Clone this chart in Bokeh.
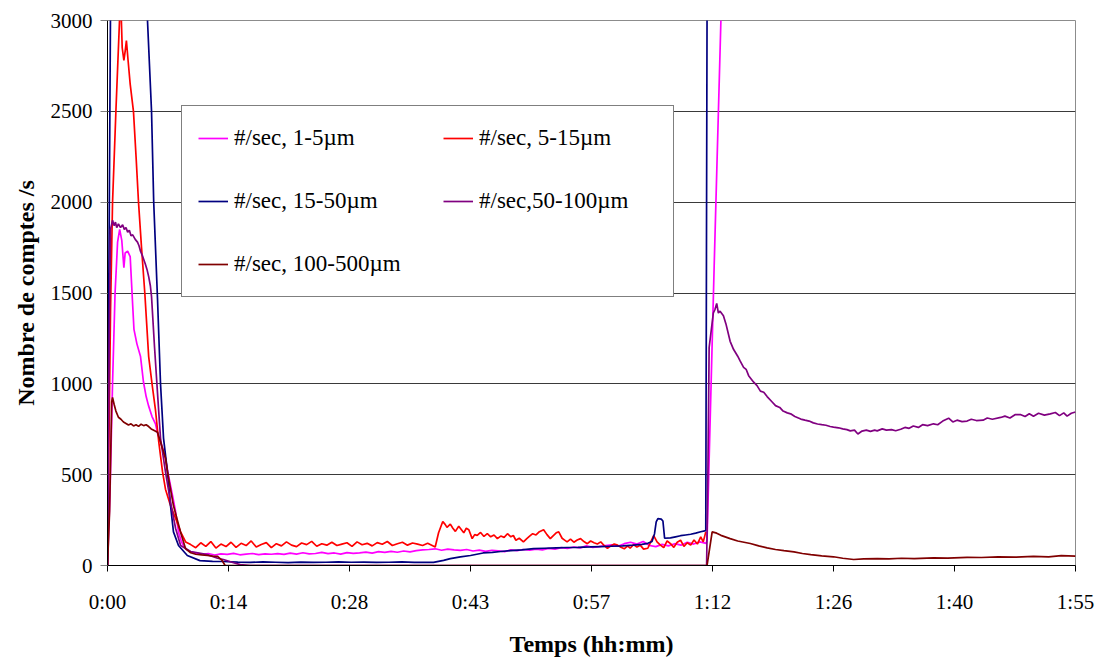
from bokeh.plotting import figure
from bokeh.models import Range1d, FixedTicker, Legend, LegendItem
from bokeh.embed import file_html
from bokeh.resources import INLINE

# ---------------- data (time in minutes, counts per second) ----------------
tick_minutes = [0, 14.4, 28.8, 43.2, 57.6, 72.0, 86.4, 100.8, 115.2]
tick_labels = ["0:00", "0:14", "0:28", "0:43", "0:57", "1:12", "1:26", "1:40", "1:55"]
y_ticks = [0, 500, 1000, 1500, 2000, 2500, 3000]

series_names = ["#/sec, 1-5\u00b5m", "#/sec, 5-15\u00b5m", "#/sec, 15-50\u00b5m",
                "#/sec,50-100\u00b5m", "#/sec, 100-500\u00b5m"]
series_colors = ["#FF00FF", "#FF0000", "#000080", "#800080", "#800000"]

# 1-5 um (magenta)
mag_t_a = [0, 0.3, 0.6, 0.9, 1.2, 1.45, 1.7, 1.85, 1.95, 2.1, 2.4, 2.7, 3.0, 3.15, 3.5, 3.93,
           4.28, 4.6, 4.88, 5.3, 5.71, 6.0, 6.31, 6.6, 6.9, 7.2, 7.5, 7.8, 8.09, 8.45, 8.8, 9.1, 9.5, 9.9]
mag_v_a = [0, 400, 1000, 1500, 1780, 1850, 1790, 1700, 1640, 1720, 1730, 1700, 1430, 1300, 1220, 1150,
           1010, 930, 880, 820, 780, 720, 680, 640, 590, 510, 440, 370, 300, 185, 130, 105, 85, 75]
mag_mid_start = 10.5
mag_mid_step = 0.75
mag_mid = [68, 62, 66, 58, 64, 61, 67, 59, 63, 66, 60, 64, 62,
           65, 61, 68, 63, 70, 64, 66, 72, 65, 69, 63, 71, 67,
           70, 74, 68, 76, 72, 78, 73, 80, 75, 82, 86,
           88, 92, 84, 90, 86, 83, 88, 80, 85,
           78, 84, 80, 76, 86, 82, 88, 84, 90, 86,
           94, 90, 98, 94, 102, 97, 108, 100, 104, 110,
           114, 106, 120, 128, 118, 132, 110, 104, 116, 108,
           120, 112, 128, 118, 130, 122]
mag_t_b = [71.35, 72.2, 73.0, 73.6]
mag_v_b = [140, 1650, 3000, 3900]

# 5-15 um (red)
red_t_a = [0, 0.15, 0.36, 0.6, 1.0, 1.43, 1.55, 1.75, 1.95, 2.1, 2.25, 2.45, 2.7, 3.09, 3.4, 3.69,
           4.05, 4.44, 4.9, 5.3, 5.7, 6.1, 6.55, 6.9, 7.5, 8.1, 8.7, 9.3]
red_v_a = [0, 600, 1400, 2000, 2500, 3000, 3150, 2850, 2780, 2830, 2890, 2780, 2650, 2500, 2250, 2000,
           1750, 1500, 1150, 1000, 860, 680, 515, 420, 330, 260, 185, 130]
red_mid_start = 9.9
red_mid_step = 0.6
red_mid = [115, 98, 125, 105, 132, 96, 118, 104, 128, 100,
           122, 110, 135, 102, 116, 126, 98, 120, 108, 130,
           112, 104, 124, 115, 133, 106, 120, 112, 128, 110,
           118, 125, 105, 130, 114, 122, 108, 126, 117, 132,
           110, 120, 128, 112, 124, 118, 110, 122]
red_t_b = [39.0, 39.4, 39.9, 40.2, 40.4, 40.8, 41.1, 41.4, 41.8, 42.1, 42.4, 42.7, 43.0, 43.4, 43.7,
           44.0, 44.4, 44.8, 45.2, 45.6, 46.0, 46.4, 46.8, 47.2, 47.6, 48.0, 48.3, 48.6, 49.0, 49.5,
           49.9, 50.2, 50.6, 51.0, 51.4, 51.9, 52.3, 52.7, 53.0, 53.4, 53.7, 54.1, 54.4, 54.7, 55.1,
           55.5, 55.9, 56.3, 56.7, 57.1, 57.5, 57.9, 58.3, 58.7, 59.1, 59.5, 59.9, 60.3, 60.7, 61.1,
           61.5, 61.9, 62.2, 62.6, 63.0, 63.4, 63.8, 64.3, 64.6, 65.0, 65.4, 65.8, 66.2, 66.6, 67.0,
           67.4, 67.8, 68.2, 68.6, 69.0, 69.4, 69.8, 70.2, 70.6, 70.9, 71.2]
red_v_b = [102, 180, 242, 225, 210, 228, 205, 188, 216, 198, 180, 205, 197, 148, 170,
           166, 182, 160, 175, 158, 168, 148, 162, 155, 175, 158, 165, 139, 150, 130,
           148, 160, 175, 168, 186, 197, 170, 148, 162, 180, 185, 150, 140, 130, 145,
           128, 140, 148, 132, 120, 135, 125, 118, 130, 110, 95, 108, 118, 112, 100,
           92, 108, 95, 115, 102, 112, 90, 95, 125, 165, 130, 112, 98, 135, 120,
           100, 128, 139, 105, 125, 112, 140, 118, 157, 130, 185]

# 15-50 um (navy)
blue_t = [0, 0.15, 0.35, 0.5, 4.3, 4.76, 5.24, 5.5, 5.95, 6.31, 6.67, 7.14, 7.5, 7.85, 8.45, 9.5,
          11.0, 12.5, 13.8, 15.5, 17.0, 18.5, 20.0, 21.5, 23.0, 24.5, 26.0, 27.5, 29.0, 30.5, 32.0,
          33.5, 35.0, 36.5, 38.0, 38.8, 40.0, 40.8, 42.0, 43.2, 44.7, 45.8, 46.8, 48.0, 49.3, 50.7,
          52.0, 53.4, 54.7, 56.0, 57.4, 58.7, 60.0, 61.3, 62.6, 63.6, 64.3, 64.8, 65.1, 65.3, 65.5,
          65.9, 66.1, 66.3, 67.0, 67.6, 68.2, 68.8, 69.4, 70.0, 70.6, 71.2, 71.35, 71.5]
blue_v = [0, 1500, 3000, 3700, 3700, 3000, 2500, 2000, 1470, 1000, 700, 515, 330, 185, 110, 55,
          27, 23, 22, 19, 17, 20, 18, 16, 19, 17, 18, 20, 18, 19, 17,
          18, 20, 17, 18, 17, 28, 38, 47, 55, 69, 72, 77, 82, 86, 93,
          95, 97, 99, 100, 102, 104, 106, 108, 112, 116, 122, 132, 175, 240, 258,
          255, 245, 150, 152, 158, 164, 168, 172, 178, 186, 192, 3000, 3900]

# 50-100 um (purple)
pur_t_a = [0, 0.2, 0.36, 0.6, 0.8, 0.95, 1.1, 1.3, 1.55, 1.8, 2.0, 2.2, 2.4, 2.6, 2.8, 3.0, 3.3,
           3.57, 3.75, 3.93, 4.2, 4.5, 4.7, 4.9, 5.1, 5.24, 5.6, 5.95, 6.31, 6.9, 7.5, 8.1, 8.7,
           9.9, 11.9, 13.1, 13.8, 15.0, 15.8, 17.0, 71.25]
pur_v_a = [0, 1200, 1850, 1900, 1870, 1890, 1860, 1880, 1860, 1875, 1850, 1860, 1835, 1845, 1815,
           1820, 1795, 1780, 1760, 1730, 1700, 1660, 1630, 1590, 1540, 1480, 1200, 950, 700, 515,
           350, 205, 110, 77, 60, 40, 33, 15, 5, 0, 0]
pur_t_b = [71.3, 71.45, 71.6, 72.1, 72.3, 72.5, 72.7, 72.9, 73.3, 73.6,
           74.1, 74.5, 75.0, 75.3, 75.7, 76.0, 76.3, 76.9, 77.3, 77.7,
           78.1, 78.5, 79.1, 79.5, 80.0, 80.4, 80.9, 81.3, 81.8, 82.5,
           83.0, 83.5, 84.0, 84.5, 85.0, 85.5, 86.0, 86.4, 87.0, 87.5,
           88.0, 88.4, 88.9, 89.3, 89.8, 90.3, 90.8, 91.3, 91.6, 92.2,
           92.7, 93.3, 93.8, 94.4, 94.9, 95.4, 95.9, 96.5, 97.0, 97.6,
           98.3, 98.8, 99.4, 100.1, 100.6, 101.1, 101.7, 102.3, 102.8, 103.4,
           104.2, 104.7, 105.3, 106.3, 106.8, 107.4, 108.0, 108.7, 109.2, 109.7,
           110.2, 110.8, 111.5, 112.2, 112.8, 113.3, 113.8, 114.2, 114.7, 115.2]
pur_v_b = [0, 500, 1200, 1390, 1410, 1443, 1390, 1400, 1375, 1330,
           1234, 1190, 1152, 1125, 1091, 1080, 1045, 1009, 990, 960,
           954, 930, 900, 880, 870, 850, 840, 835, 820, 806,
           800, 795, 785, 779, 775, 772, 765, 762, 758, 752,
           748, 741, 745, 724, 740, 745, 738, 745, 741, 752,
           745, 748, 742, 750, 760, 755, 768, 760, 775, 770,
           780, 775, 795, 811, 790, 800, 792, 795, 805, 798,
           800, 812, 805, 815, 822, 812, 830, 830, 820, 835,
           822, 838, 828, 835, 842, 825, 840, 822, 838, 845]

# 100-500 um (dark red)
dr_t_a = [0, 0.25, 0.5, 0.6, 0.8, 1.0, 1.3, 1.6, 1.9, 2.2, 2.5, 2.8, 3.1, 3.4, 3.7, 4.0, 4.3, 4.6,
          4.9, 5.2, 5.5, 5.95, 6.31, 6.9, 7.14, 7.85, 8.69, 9.28, 9.9, 10.5, 11.2, 11.9, 12.5, 13.1,
          13.6, 14.0, 71.3]
dr_v_a = [0, 300, 900, 925, 885, 850, 816, 805, 790, 782, 773, 780, 768, 775, 766, 778, 770, 775,
          765, 752, 745, 733, 680, 590, 515, 330, 185, 93, 70, 62, 58, 55, 52, 50,
          30, 0, 0]
dr_t_b = [71.35, 71.96, 72.5, 73.0, 74.1, 75.0, 76.5, 77.5, 78.5, 79.5, 80.5, 81.7, 82.7, 83.7,
          85.0, 86.4, 87.5, 88.8, 90.0, 91.6, 93.0, 94.5, 96.0, 98.3, 100.0, 102.3, 104.0, 106.0,
          108.0, 110.2, 112.0, 113.5, 115.2]
dr_v_b = [0, 185, 178, 166, 148, 135, 121, 108, 97, 88, 82, 75, 66, 60,
          53, 48, 40, 33, 36, 38, 36, 40, 38, 42, 41, 45, 44, 48,
          46, 50, 48, 54, 52]


def seg_times(start, step, vals):
    return [start + step * i for i in range(len(vals))]


series_t = [
    mag_t_a + seg_times(mag_mid_start, mag_mid_step, mag_mid) + mag_t_b,
    red_t_a + seg_times(red_mid_start, red_mid_step, red_mid) + red_t_b,
    blue_t,
    pur_t_a + pur_t_b,
    dr_t_a + dr_t_b,
]
series_v = [
    mag_v_a + mag_mid + mag_v_b,
    red_v_a + red_mid + red_v_b,
    blue_v,
    pur_v_a + pur_v_b,
    dr_v_a + dr_v_b,
]

# ---------------- figure ----------------
FONT = "Liberation Serif"

p = figure(width=1098, height=659,
           x_range=Range1d(0, 115.2), y_range=Range1d(0, 3000),
           output_backend="svg", toolbar_location=None,
           min_border_left=107, min_border_top=20, min_border_right=23, min_border_bottom=92)
p.background_fill_color = "white"
p.border_fill_color = "white"
p.outline_line_color = "#8c8c8c"
p.outline_line_width = 1

p.xgrid.visible = False
p.ygrid.ticker = FixedTicker(ticks=y_ticks[1:-1])
p.ygrid.grid_line_color = "#3a3a3a"
p.ygrid.grid_line_width = 1

p.xaxis.ticker = FixedTicker(ticks=tick_minutes)
p.xaxis.major_label_overrides = {t: l for t, l in zip(tick_minutes, tick_labels)}
p.yaxis.ticker = FixedTicker(ticks=y_ticks)

for ax in (p.xaxis[0], p.yaxis[0]):
    ax.minor_tick_line_color = None
    ax.major_tick_in = 0
    ax.major_label_text_font = FONT
    ax.major_label_text_font_size = "21px"
    ax.major_label_text_color = "black"
    ax.axis_label_text_font = FONT
    ax.axis_label_text_font_style = "bold"
    ax.axis_label_text_font_size = "24px"
    ax.axis_label_text_color = "black"
    ax.axis_line_color = "black"

p.xaxis.major_tick_out = 6
p.xaxis.major_tick_line_color = "black"
p.xaxis.major_label_standoff = 18
p.xaxis.axis_label = "Temps (hh:mm)"
p.xaxis.axis_label_standoff = 14

p.yaxis.major_tick_out = 7
p.yaxis.major_tick_line_color = "#808080"
p.yaxis.major_label_standoff = 8
p.yaxis.axis_label = "Nombre de comptes /s"
p.yaxis.axis_label_standoff = 9

renderers = []
for t, v, c in zip(series_t, series_v, series_colors):
    r = p.line(x=t, y=v, line_color=c, line_width=1.7)
    renderers.append(r)

legend = Legend(
    items=[LegendItem(label=n, renderers=[r]) for n, r in zip(series_names, renderers)],
    location=(74, 268), orientation="horizontal", ncols=2,
    border_line_color="black", border_line_width=1,
    background_fill_color="white", background_fill_alpha=1.0,
    label_text_font=FONT, label_text_font_size="23px", label_text_color="black",
    glyph_width=30, glyph_height=32, label_height=32, label_width=178,
    label_standoff=6, spacing=31, padding=16, margin=0,
)
p.add_layout(legend)

open("out.html", "w").write(file_html(p, INLINE, title="chart"))
